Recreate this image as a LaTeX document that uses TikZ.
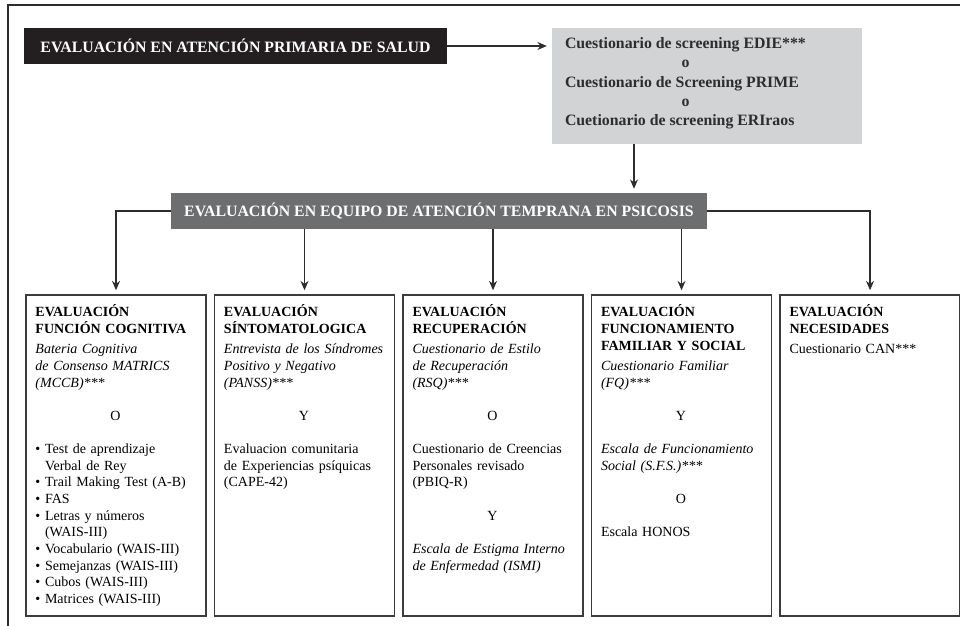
\documentclass[tikz,border=0pt]{standalone}
\usepackage{fontspec}
\setmainfont{Liberation Serif}
\usetikzlibrary{arrows.meta,positioning}

\definecolor{apsblack}{RGB}{35,31,32}
\definecolor{teamgray}{RGB}{109,110,112}
\definecolor{screengray}{RGB}{210,211,213}
\definecolor{linegray}{RGB}{45,45,45}
\definecolor{boxline}{RGB}{60,60,60}

\newcommand{\headfont}{\fontsize{13.5pt}{16.4pt}\selectfont\bfseries}
\newcommand{\bodyfont}{\fontsize{11.95pt}{14.2pt}\selectfont}
\newcommand{\andor}[1]{\\[14.2pt]\makebox[4.8cm]{#1}\\[14.2pt]}
\newcommand{\itembul}{\textbullet\ }
\newcommand{\itemind}{\phantom{\textbullet\ }}

\tikzset{
  evalbox/.style={draw=boxline,line width=0.045cm,minimum width=5.4cm,minimum height=9.63cm,inner sep=0pt},
  evaltext/.style={anchor=base west,text width=5.1cm,align=left,inner sep=0pt,font=\bodyfont},
  link/.style={draw=linegray,line width=0.04cm,shorten >=0.12cm,arrows=-{Stealth[length=0.28cm,width=0.24cm]}},
}

\begin{document}
\begin{tikzpicture}[x=0.03cm,y=-0.03cm]
\useasboundingbox (0,0) rectangle (960,626);

% page frame:
\draw[linegray,line width=0.06cm] (960,5) -- (8,5) -- (8,626);

% primary care and screening:
\node[fill=apsblack,text=white,font=\headfont,minimum width=12.69cm,minimum height=1.08cm,inner sep=0pt] (aps) at (235.5,46) {EVALUACIÓN EN ATENCIÓN PRIMARIA DE SALUD};
\node[fill=screengray,minimum width=9.3cm,minimum height=3.48cm,inner sep=0pt] (scr) at (707,86) {};
\node[font=\headfont,text=linegray,anchor=base west,inner sep=0pt] (scrtxt) at ([shift={(13,21)}]scr.north west) {\begin{tabular}[t]{@{}l@{}}
Cuestionario de screening EDIE***\\
\multicolumn{1}{@{}c@{}}{o}\\
Cuestionario de Screening PRIME\\
\multicolumn{1}{@{}c@{}}{o}\\
Cuetionario de screening ERIraos
\end{tabular}};
\coordinate (drop) at (634,0);

% early intervention team:
\node[fill=teamgray,text=white,font=\headfont,minimum width=16.08cm,minimum height=1.08cm,inner sep=0pt] (tep) at (439,211) {EVALUACIÓN EN EQUIPO DE ATENCIÓN TEMPRANA EN PSICOSIS};

% evaluation boxes:
\node[evalbox] (cog) at (116,455.5) {};
\node[evalbox,right=0.21cm of cog] (sin) {};
\node[evalbox,right=0.21cm of sin] (rec) {};
\node[evalbox,right=0.21cm of rec] (fam) {};
\node[evalbox,right=0.21cm of fam] (nec) {};

\node[evaltext] (cogtxt) at ([shift={(10,22.7)}]cog.north west) {{\bfseries EVALUACIÓN\\FUNCIÓN COGNITIVA}\\[3pt]
\textit{Bateria Cognitiva\\de Consenso MATRICS\\(MCCB)***}
\andor{O}
\itembul Test de aprendizaje\\
\itemind Verbal de Rey\\
\itembul Trail Making Test (A-B)\\
\itembul FAS\\
\itembul Letras y números\\
\itemind (WAIS-III)\\
\itembul Vocabulario (WAIS-III)\\
\itembul Semejanzas (WAIS-III)\\
\itembul Cubos (WAIS-III)\\
\itembul Matrices (WAIS-III)};
\node[evaltext] (sintxt) at ([shift={(10,22.7)}]sin.north west) {{\bfseries EVALUACIÓN\\SÍNTOMATOLOGICA}\\[3pt]
\textit{Entrevista de los Síndromes\\Positivo y Negativo\\(PANSS)***}
\andor{Y}
Evaluacion comunitaria\\de Experiencias psíquicas\\(CAPE-42)};
\node[evaltext] (rectxt) at ([shift={(10,22.7)}]rec.north west) {{\bfseries EVALUACIÓN\\RECUPERACIÓN}\\[3pt]
\textit{Cuestionario de Estilo\\de Recuperación\\(RSQ)***}
\andor{O}
Cuestionario de Creencias\\Personales revisado\\(PBIQ-R)
\andor{Y}
\textit{Escala de Estigma Interno\\de Enfermedad (ISMI)}};
\node[evaltext] (famtxt) at ([shift={(10,22.7)}]fam.north west) {{\bfseries EVALUACIÓN\\FUNCIONAMIENTO\\FAMILIAR Y SOCIAL}\\[3pt]
\textit{Cuestionario Familiar\\(FQ)***}
\andor{Y}
\textit{Escala de Funcionamiento\\Social (S.F.S.)***}
\andor{O}
Escala HONOS};
\node[evaltext] (nectxt) at ([shift={(10,22.7)}]nec.north west) {{\bfseries EVALUACIÓN\\NECESIDADES}\\[3pt]
Cuestionario CAN***};

% connectors:
\draw[link,shorten >=0.15cm] (aps.east) -- (aps.east -| scr.west);
\draw[link] (scr.south -| drop) -- (tep.north -| drop);
\draw[link] (tep.west) -| (cog.north);
\draw[link] (tep.south -| sin.north) -- (sin.north);
\draw[link] (tep.south -| rec.north) -- (rec.north);
\draw[link] (tep.south -| fam.north) -- (fam.north);
\draw[link] (tep.east) -| (nec.north);

\end{tikzpicture}
\end{document}
